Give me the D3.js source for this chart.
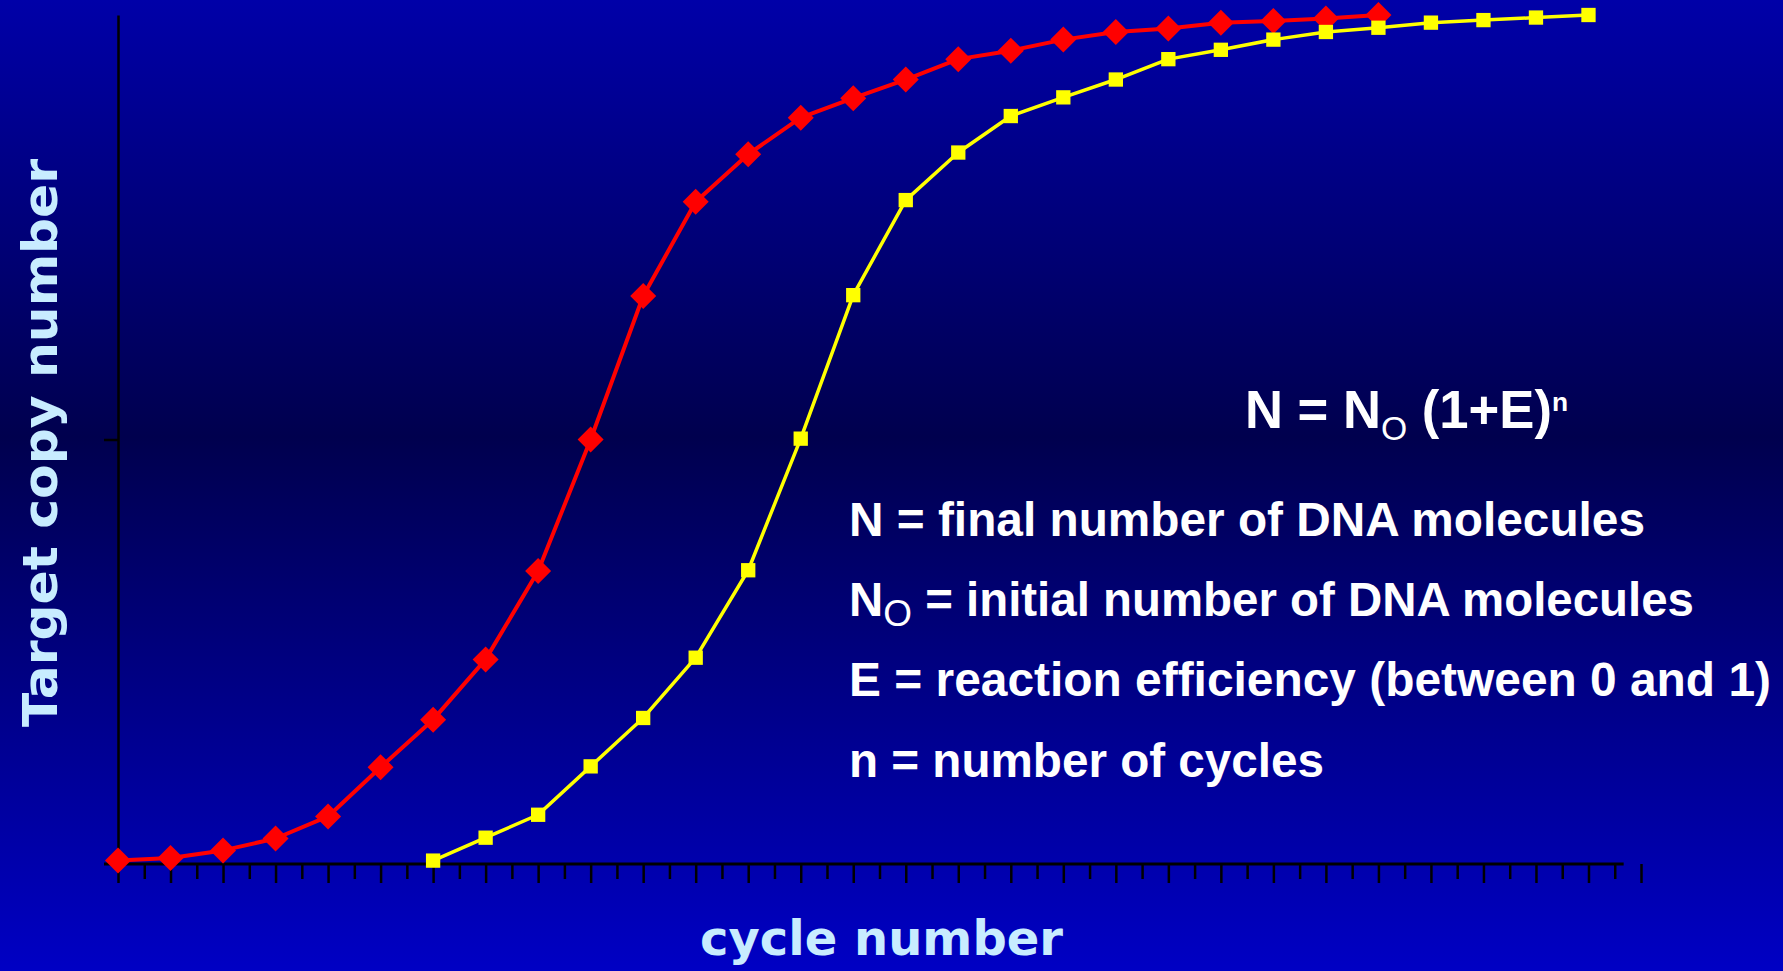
<!DOCTYPE html>
<html><head><meta charset="utf-8">
<script src="https://cdn.jsdelivr.net/npm/d3@7"></script>
<style>html,body{margin:0;padding:0;overflow:hidden;background:#000080}</style>
</head><body>
<svg id="c" width="1783" height="971"></svg>
<script>
// ---------------- data ----------------
const redCycles = [0,1,2,3,4,5,6,7,8,9,10,11,12,13,14,15,16,17,18,19,20,21,22,23,24];
const redValues = [0.4,0.7,1.6,3.0,5.6,11.4,17.0,24.1,34.5,50.0,66.9,78.0,83.6,87.9,90.2,92.4,94.8,95.8,97.1,98.0,98.4,99.1,99.3,99.6,100.0];
const yellowCycles = [6,7,8,9,10,11,12,13,14,15,16,17,18,19,20,21,22,23,24,25,26,27,28];
const yellowValues = [0.4,3.1,5.8,11.5,17.2,24.3,34.6,50.1,67.0,78.2,83.8,88.1,90.3,92.4,94.8,95.9,97.1,98.0,98.5,99.1,99.4,99.7,100.0];
const xTickValues = [0,0.5,1,1.5,2,2.5,3,3.5,4,4.5,5,5.5,6,6.5,7,7.5,8,8.5,9,9.5,10,10.5,11,11.5,12,12.5,13,13.5,14,14.5,15,15.5,16,16.5,17,17.5,18,18.5,19,19.5,20,20.5,21,21.5,22,22.5,23,23.5,24,24.5,25,25.5,26,26.5,27,27.5,28,28.5,29];
const yTickValues = [50];
const xTitle = "cycle number";
const yTitle = "Target copy number";
const formula = [{t:"N = N"},{t:"O",sub:true},{t:" (1+E)"},{t:"n",sup:true}];
const legendLines = [
  [{t:"N = final number of DNA molecules"}],
  [{t:"N"},{t:"O",sub:true},{t:" = initial number of DNA molecules"}],
  [{t:"E = reaction efficiency (between 0 and 1)"}],
  [{t:"n = number of cycles"}]
];

// ---------------- layout ----------------
const W = 1783, H = 971;
const svg = d3.select("#c");
const defs = svg.append("defs");
const grad = defs.append("linearGradient").attr("id","bg").attr("x1",0).attr("y1",0).attr("x2",0).attr("y2",1);
grad.append("stop").attr("offset","0%").attr("stop-color","#0000a8");
grad.append("stop").attr("offset","45%").attr("stop-color","#00004e");
grad.append("stop").attr("offset","100%").attr("stop-color","#0000c4");
svg.append("rect").attr("width",W).attr("height",H).attr("fill","url(#bg)");

const x = d3.scaleLinear().domain([0,29]).range([118,1641]);
const y = d3.scaleLinear().domain([0,100]).range([864,15]);

// x axis
const xAxis = d3.axisBottom(x).tickValues(xTickValues).tickFormat("").tickSizeOuter(0);
const gx = svg.append("g").attr("transform",`translate(0,${y(0)})`).call(xAxis);
gx.select(".domain").remove();
gx.selectAll(".tick line").attr("stroke","#000").attr("stroke-width",2.5)
  .attr("y2", d => Number.isInteger(d) ? 19 : 15);
gx.append("line").attr("x1",104).attr("x2",x(28.67)).attr("y1",0).attr("y2",0)
  .attr("stroke","#000").attr("stroke-width",3);

// y axis
const yAxis = d3.axisLeft(y).tickValues(yTickValues).tickFormat("").tickSize(14).tickSizeOuter(0);
const gy = svg.append("g").attr("transform",`translate(${x(0)},0)`).call(yAxis);
gy.select(".domain").attr("stroke","#000").attr("stroke-width",2.5);
gy.selectAll(".tick line").attr("stroke","#000").attr("stroke-width",2.5);

// lines
const line = d3.line().x(d=>x(d[0])).y(d=>y(d[1]));
const red = redCycles.map((c,i)=>[c,redValues[i]]);
const yel = yellowCycles.map((c,i)=>[c,yellowValues[i]]);

svg.append("path").datum(red).attr("d",line).attr("fill","none").attr("stroke","#ff0000").attr("stroke-width",4).attr("stroke-linejoin","round");
svg.append("g").selectAll("path").data(red).join("path")
  .attr("d", d3.symbol(d3.symbolSquare, 338)())
  .attr("transform", d=>`translate(${x(d[0])},${y(d[1])}) rotate(45)`)
  .attr("fill","#ff0000");

svg.append("path").datum(yel).attr("d",line).attr("fill","none").attr("stroke","#ffff00").attr("stroke-width",3.5).attr("stroke-linejoin","round");
svg.append("g").selectAll("path").data(yel).join("path")
  .attr("d", d3.symbol(d3.symbolSquare, 205)())
  .attr("transform", d=>`translate(${x(d[0])},${y(d[1])})`)
  .attr("fill","#ffff00");

// axis titles
svg.append("text").text(xTitle)
  .attr("x",700).attr("y",955)
  .attr("textLength",363).attr("lengthAdjust","spacingAndGlyphs")
  .attr("font-family","'Comic Sans MS','DejaVu Sans',sans-serif").attr("font-weight","bold")
  .attr("font-size",48).attr("fill","#c8ecff");
svg.append("text").text(yTitle)
  .attr("transform","translate(57,727) rotate(-90)")
  .attr("textLength",568).attr("lengthAdjust","spacingAndGlyphs")
  .attr("font-family","'Comic Sans MS','DejaVu Sans',sans-serif").attr("font-weight","bold")
  .attr("font-size",48).attr("fill","#c8ecff");

// text block
function richText(parts, tx, ty, size, subScale, subDy, supScale, supDy, len){
  const t = svg.append("text").attr("x",tx).attr("y",ty)
    .attr("font-family","'Liberation Sans',Arial,sans-serif").attr("font-weight","bold")
    .attr("font-size",size).attr("fill","#ffffff");
  let off = 0;
  parts.forEach(p=>{
    const s = t.append("tspan").text(p.t);
    if(p.sub){ s.attr("font-size",size*subScale).attr("font-weight","normal").attr("dy",subDy); off = subDy; }
    else if(p.sup){ s.attr("font-size",size*supScale).attr("dy",supDy - off); off = supDy; }
    else if(off!==0){ s.attr("dy",-off); off = 0; }
  });
  if(len) t.attr("textLength",len).attr("lengthAdjust","spacingAndGlyphs");
  return t;
}
richText(formula, 1245, 428, 53, 0.64, 12, 0.5, -17, 323);
const lx = 849, lbase = [536,616,696,777], lens = [796,845,922,475];
legendLines.forEach((ln,i)=>richText(ln, lx, lbase[i], 48, 0.78, 10, 0.5, -15, lens[i]));
</script>
</body></html>
